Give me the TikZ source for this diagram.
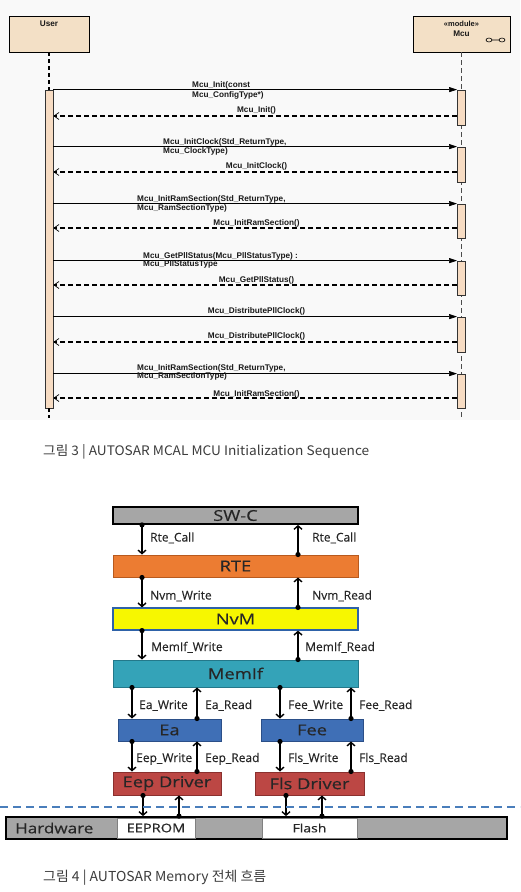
\documentclass[tikz,border=0pt]{standalone}
\usepackage{fontspec}
\usepackage{graphicx}
\usetikzlibrary{arrows.meta,calc}
\newfontfamily\seqfont{Liberation Sans}
\newfontfamily\boxfont[FakeStretch=1.22,FakeBold=0.4]{Open Sans}
\newfontfamily\lblfont[FakeBold=0.3]{Open Sans}
\newfontfamily\capfont{Noto Sans CJK KR}
\definecolor{headfill}{HTML}{F3E0C6}
\definecolor{barfill}{HTML}{F7DCC3}
\definecolor{bgtop}{HTML}{F9F9F9}
\definecolor{swcfill}{HTML}{A6A6A6}
\definecolor{rtefill}{HTML}{EC7C32}
\definecolor{rtedraw}{HTML}{B85A1E}
\definecolor{nvmfill}{HTML}{F7F700}
\definecolor{nvmdraw}{HTML}{2E62A8}
\definecolor{memfill}{HTML}{34A3B8}
\definecolor{memdraw}{HTML}{23788A}
\definecolor{eafill}{HTML}{3F6FB6}
\definecolor{eadraw}{HTML}{2B4F88}
\definecolor{drvfill}{HTML}{BC4744}
\definecolor{drvdraw}{HTML}{8A302E}
\definecolor{hwfill}{HTML}{A6A6A6}
\definecolor{dashblue}{HTML}{4A7EBB}
\definecolor{capgray}{HTML}{3C3C3C}
\newcommand\flowarrow[2]{\fill (#1) circle (2.6pt); \draw[flow] (#1) -- (#2);}
\begin{document}
\begin{tikzpicture}[x=1pt,y=-1pt,
 head/.style={draw=black, line width=0.9pt, fill=headfill, inner sep=0},
 actbar/.style={draw=black!80, line width=0.8pt, fill=barfill, minimum width=8pt, inner sep=0},
 seqtxt/.style={font=\seqfont\bfseries\fontsize{8.2}{9}\selectfont, inner sep=0, text=black!90},
 callmsg/.style={line width=0.6pt, -{Triangle[length=8pt,width=5pt]}},
 retmsg/.style={line width=1.1pt, dash pattern=on 5pt off 3pt, -{Straight Barb[length=5pt,width=7pt,line width=0.7pt]}},
 lifeU/.style={line width=1.2pt, dash pattern=on 4pt off 3pt},
 lifeM/.style={line width=0.6pt, black!70, dash pattern=on 5pt off 3pt},
 lay/.style={inner sep=0, font=\boxfont\fontsize{15}{16}\selectfont, text=black!85},
 lbl/.style={font=\lblfont\fontsize{12}{14}\selectfont, inner sep=0, anchor=base west, text=black!85},
 flow/.style={line width=1.6pt, -{Straight Barb[length=3.5pt,width=8pt,line width=1.4pt]}},
 captxt/.style={inner sep=0, anchor=base west, text=capgray}
]
\useasboundingbox (0,0) rectangle (520,892);
\fill[bgtop] (0,0) rectangle (520,420);

% ---------- sequence diagram ----------
\node[head, minimum width=80pt, minimum height=36pt] (user) at (49,34) {};
\node[seqtxt, anchor=base] (userlbl) at (49,26) {User};
\node[head, minimum width=97pt, minimum height=36pt] (mcu) at (461.5,34) {};
\node[seqtxt, anchor=base, font=\seqfont\bfseries\fontsize{7.5}{8}\selectfont] (modlbl) at (461.5,26) {«module»};
\node[seqtxt, anchor=base] (mculbl) at (461.5,36.5) {Mcu};
\draw[line width=0.6pt] (489,40) ellipse (3pt and 2pt) (502,40) ellipse (3pt and 2pt) (492,40) -- (499,40);

\coordinate (uend) at (49,418);
\coordinate (mend) at (461.5,418);
\draw[lifeM] (mcu.south) -- (mend);

\node[actbar, minimum height=318pt] (ubar) at (49,249) {};
\draw[lifeU] (user.south) -- (ubar.north);
\draw[lifeU] (ubar.south) -- (uend);

\node[actbar, minimum height=35pt] (mb1) at (461.5,107.5) {};
\node[actbar, minimum height=35pt] (mb2) at (461.5,164.5) {};
\node[actbar, minimum height=34pt] (mb3) at (461.5,221) {};
\node[actbar, minimum height=34pt] (mb4) at (461.5,278) {};
\node[actbar, minimum height=35pt] (mb5) at (461.5,334.5) {};
\node[actbar, minimum height=34pt] (mb6) at (461.5,391) {};

\coordinate (r1) at (461.5,116);
\coordinate (r2) at (461.5,172);
\coordinate (r3) at (461.5,228);
\coordinate (r4) at (461.5,285);
\coordinate (r5) at (461.5,342);
\coordinate (r6) at (461.5,398);

\draw[callmsg] (ubar.east |- mb1.north) -- (mb1.north west);
\draw[retmsg] (mb1.west |- r1) -- (ubar.east |- r1);
\draw[callmsg] (ubar.east |- mb2.north) -- (mb2.north west);
\draw[retmsg] (mb2.west |- r2) -- (ubar.east |- r2);
\draw[callmsg] (ubar.east |- mb3.north) -- (mb3.north west);
\draw[retmsg] (mb3.west |- r3) -- (ubar.east |- r3);
\draw[callmsg] (ubar.east |- mb4.north) -- (mb4.north west);
\draw[retmsg] (mb4.west |- r4) -- (ubar.east |- r4);
\draw[callmsg] (ubar.east |- mb5.north) -- (mb5.north west);
\draw[retmsg] (mb5.west |- r5) -- (ubar.east |- r5);
\draw[callmsg] (ubar.east |- mb6.north) -- (mb6.north west);
\draw[retmsg] (mb6.west |- r6) -- (ubar.east |- r6);

\node[seqtxt, anchor=base west] (c1a) at (192,87.5) {Mcu\_Init(const};
\node[seqtxt, anchor=base west] (c1b) at (192,97) {Mcu\_ConfigType*)};
\node[seqtxt, anchor=base] (rt1) at (256.5,112) {Mcu\_Init()};
\node[seqtxt, anchor=base west] (c2a) at (163,144) {Mcu\_InitClock(Std\_ReturnType,};
\node[seqtxt, anchor=base west] (c2b) at (163,153) {Mcu\_ClockType)};
\node[seqtxt, anchor=base] (rt2) at (256.5,168.5) {Mcu\_InitClock()};
\node[seqtxt, anchor=base west] (c3a) at (137,201.5) {Mcu\_InitRamSection(Std\_ReturnType,};
\node[seqtxt, anchor=base west] (c3b) at (137,210) {Mcu\_RamSectionType)};
\node[seqtxt, anchor=base] (rt3) at (256.5,225) {Mcu\_InitRamSection()};
\node[seqtxt, anchor=base west] (c4a) at (143,258) {Mcu\_GetPllStatus(Mcu\_PllStatusType) :};
\node[seqtxt, anchor=base west] (c4b) at (143,266.5) {Mcu\_PllStatusType};
\node[seqtxt, anchor=base] (rt4) at (256.5,282) {Mcu\_GetPllStatus()};
\node[seqtxt, anchor=base] (c5a) at (256.5,313.5) {Mcu\_DistributePllClock()};
\node[seqtxt, anchor=base] (rt5) at (256.5,338.5) {Mcu\_DistributePllClock()};
\node[seqtxt, anchor=base west] (c6a) at (137,370) {Mcu\_InitRamSection(Std\_ReturnType,};
\node[seqtxt, anchor=base west] (c6b) at (137,378.5) {Mcu\_RamSectionType)};
\node[seqtxt, anchor=base] (rt6) at (256.5,396.5) {Mcu\_InitRamSection()};

\node[captxt] (cap3) at (43,455) {\resizebox{326pt}{11pt}{\capfont 그림 3 | AUTOSAR MCAL MCU Initialization Sequence}};

% ---------- memory stack ----------
\node[lay, draw=black, line width=1.8pt, fill=swcfill, minimum width=245pt, minimum height=17pt] (swc) at (235.5,515.5) {SW-C};
\node[lay, draw=rtedraw, line width=1pt, fill=rtefill, minimum width=245pt, minimum height=22pt] (rte) at (235.5,566) {RTE};
\node[lay, draw=nvmdraw, line width=1.2pt, fill=nvmfill, minimum width=245pt, minimum height=22pt] (nvm) at (235.5,619) {NvM};
\node[lay, draw=memdraw, line width=1pt, fill=memfill, minimum width=245pt, minimum height=27pt] (memif) at (235.5,673.5) {MemIf};
\node[lay, draw=eadraw, line width=1pt, fill=eafill, minimum width=103pt, minimum height=22pt] (ea) at (169.5,730) {Ea};
\node[lay, draw=eadraw, line width=1pt, fill=eafill, minimum width=102pt, minimum height=22pt] (fee) at (312,730) {Fee};
\node[lay, draw=drvdraw, line width=1pt, fill=drvfill, minimum width=108pt, minimum height=23pt] (eep) at (167,783.5) {Eep Driver};
\node[lay, draw=drvdraw, line width=1pt, fill=drvfill, minimum width=109pt, minimum height=23pt] (fls) at (309.5,783.5) {Fls Driver};

\node[draw=black, line width=1.8pt, fill=hwfill, minimum width=501pt, minimum height=22pt, inner sep=0] (hw) at (256.5,828) {};
\node[lay, anchor=west, font=\boxfont\fontsize{14}{16}\selectfont] (hwlbl) at (15,828) {Hardware};
\node[lay, draw=black!50, line width=0.6pt, fill=white, minimum width=78pt, minimum height=20pt, font=\boxfont\fontsize{12}{14}\selectfont] (eeprom) at (156,828) {EEPROM};
\node[lay, draw=black!50, line width=0.6pt, fill=white, minimum width=95pt, minimum height=20pt, font=\boxfont\fontsize{11.5}{14}\selectfont] (flash) at (309.5,828) {Flash};

\coordinate (xL) at (142,0);
\coordinate (xR) at (298,0);
\coordinate (xa1) at (132,0);
\coordinate (xa2) at (197,0);
\coordinate (xf1) at (280,0);
\coordinate (xf2) at (351,0);
\coordinate (xe1) at (143,0);
\coordinate (xe2) at (179,0);
\coordinate (xs1) at (286,0);
\coordinate (xs2) at (322,0);

\flowarrow{swc.south -| xL}{rte.north -| xL}
\flowarrow{rte.north -| xR}{swc.south -| xR}
\flowarrow{rte.south -| xL}{nvm.north -| xL}
\flowarrow{nvm.north -| xR}{rte.south -| xR}
\flowarrow{nvm.south -| xL}{memif.north -| xL}
\flowarrow{memif.north -| xR}{nvm.south -| xR}
\flowarrow{memif.south -| xa1}{ea.north -| xa1}
\flowarrow{ea.north -| xa2}{memif.south -| xa2}
\flowarrow{memif.south -| xf1}{fee.north -| xf1}
\flowarrow{fee.north -| xf2}{memif.south -| xf2}
\flowarrow{ea.south -| xa1}{eep.north -| xa1}
\flowarrow{eep.north -| xa2}{ea.south -| xa2}
\flowarrow{fee.south -| xf1}{fls.north -| xf1}
\flowarrow{fls.north -| xf2}{fee.south -| xf2}
\flowarrow{eep.south -| xe1}{hw.north -| xe1}
\flowarrow{hw.north -| xe2}{eep.south -| xe2}
\flowarrow{fls.south -| xs1}{hw.north -| xs1}
\flowarrow{hw.north -| xs2}{fls.south -| xs2}

\node[lbl] (l1) at (150,541.5) {Rte\_Call};
\node[lbl] (l2) at (312,541.5) {Rte\_Call};
\node[lbl] (l3) at (150,599.5) {Nvm\_Write};
\node[lbl] (l4) at (312,599.5) {Nvm\_Read};
\node[lbl] (l5) at (151,651) {MemIf\_Write};
\node[lbl] (l6) at (305,651) {MemIf\_Read};
\node[lbl] (l7) at (139,709) {Ea\_Write};
\node[lbl] (l8) at (205,709) {Ea\_Read};
\node[lbl] (l9) at (288,709) {Fee\_Write};
\node[lbl] (l10) at (359,709) {Fee\_Read};
\node[lbl] (l11) at (136,762) {Eep\_Write};
\node[lbl] (l12) at (205,762) {Eep\_Read};
\node[lbl] (l13) at (288,762) {Fls\_Write};
\node[lbl] (l14) at (359,762) {Fls\_Read};

\coordinate (dl) at (0,807);
\coordinate (dr) at (520,807);
\draw[dashblue, line width=1.5pt, dash pattern=on 8pt off 5pt] (dl) -- (dr);

\node[captxt] (cap4) at (43,881) {\resizebox{223pt}{11.5pt}{\capfont 그림 4 | AUTOSAR Memory 전체 흐름}};
\end{tikzpicture}
\end{document}
